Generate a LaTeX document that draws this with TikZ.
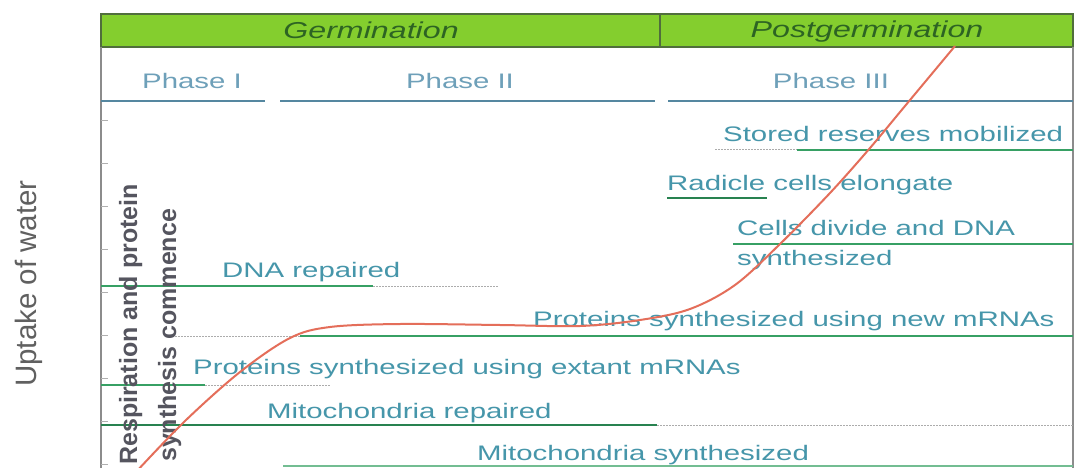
\documentclass[tikz,border=0pt]{standalone}
\usepackage{fontspec}
\setmainfont{Liberation Sans}
\definecolor{band}{RGB}{132,206,46}
\definecolor{bandtxt}{RGB}{45,100,35}
\definecolor{bandedge}{RGB}{80,110,60}
\definecolor{phasetxt}{RGB}{110,160,185}
\definecolor{phaseline}{RGB}{85,135,160}
\definecolor{anntxt}{RGB}{70,150,170}
\definecolor{gline}{RGB}{55,160,100}
\definecolor{dgline}{RGB}{40,130,80}
\definecolor{curvecol}{RGB}{228,110,90}
\definecolor{axiscol}{RGB}{140,140,140}
\definecolor{vtxt}{RGB}{85,85,95}
\newcommand\hstretch[1]{\scalebox{1.4}[1]{#1}}
\begin{document}
\begin{tikzpicture}[x=1pt,y=-1pt,
  ann/.style={anchor=base west, inner sep=0pt, text=anntxt, font=\fontsize{21}{25}\selectfont},
  phase/.style={anchor=base, inner sep=0pt, text=phasetxt, font=\fontsize{21}{25}\selectfont},
  bandlbl/.style={anchor=base, inner sep=0pt, text=bandtxt, font=\fontsize{23}{27}\selectfont\itshape},
  vlbl/.style={rotate=90, anchor=base west, inner sep=0pt, text=vtxt},
  gl/.style={draw=gline, line width=2pt},
  dgl/.style={draw=dgline, line width=2.5pt},
  dl/.style={draw=gray!65, line width=1pt, dash pattern=on 1.5pt off 1.5pt},
  pl/.style={draw=phaseline, line width=2pt},
  frame/.style={draw=axiscol, line width=1.5pt},
  tick/.style={draw=axiscol!70, line width=0.8pt}]
\useasboundingbox (0,0) rectangle (1076,468);
\fill[white] (0,0) rectangle (1076,468);
% header band
\fill[band] (101,14) rectangle (1073,47);
\draw[bandedge, line width=1.5pt] (101,14) rectangle (1073,47);
\draw[bandedge, line width=1.5pt] (660,14) -- (660,47);
\node[bandlbl] (germ) at (371,39) {\hstretch{Germination}};
\node[bandlbl] (postg) at (867,38) {\hstretch{Postgermination}};
% frame
\draw[frame] (101,47) -- (101,468);
\draw[frame] (1073,47) -- (1073,468);
\foreach \t in {120,163,206,249,292,335,378,421,464}
  \draw[tick] (101,\t) -- (108,\t);
% phases
\node[phase] (ph1) at (192,89) {\hstretch{Phase I}};
\node[phase] (ph2) at (460,89) {\hstretch{Phase II}};
\node[phase] (ph3) at (831,89) {\hstretch{Phase III}};
\draw[pl] (101,101) -- (265,101);
\draw[pl] (280,101) -- (655,101);
\draw[pl] (668,101) -- (1073,101);
% event lines
\draw[dl] (715,150) -- (797,150);
\draw[gl] (797,150) -- (1073,150);
\draw[dgl] (667,198) -- (767,198);
\draw[gl] (733,244) -- (1073,244);
\draw[gl] (101,286) -- (373,286);
\draw[dl] (373,286) -- (498,286);
\draw[dl] (172,336) -- (300,336);
\draw[gl] (300,336) -- (1073,336);
\draw[gl] (101,385) -- (205,385);
\draw[dl] (205,385) -- (330,385);
\draw[dgl] (101,425) -- (657,425);
\draw[dl] (657,425) -- (1073,425);
\draw[draw=gline!70, line width=1.5pt] (283,466) -- (1073,466);
% annotations
\node[ann] (stored) at (723,142) {\hstretch{Stored reserves mobilized}};
\node[ann] (radicle) at (667,190) {\hstretch{Radicle cells elongate}};
\node[ann] (cells) at (737,235) {\hstretch{Cells divide and DNA}};
\node[ann] (synth) at (737,265) {\hstretch{synthesized}};
\node[ann] (dnarep) at (222,277) {\hstretch{DNA repaired}};
\node[ann] (newm) at (533,326) {\hstretch{Proteins synthesized using new mRNAs}};
\node[ann] (extant) at (193,374) {\hstretch{Proteins synthesized using extant mRNAs}};
\node[ann] (mitorep) at (267,418) {\hstretch{Mitochondria repaired}};
\node[ann] (mitosyn) at (477,460) {\hstretch{Mitochondria synthesized}};
% vertical labels
\node[vlbl, font=\fontsize{25}{29}\selectfont\bfseries] (resp) at (137,465) {Respiration and protein};
\node[vlbl, font=\fontsize{25}{29}\selectfont\bfseries] (comm) at (176,462) {synthesis commence};
\node[vlbl, font=\fontsize{29.5}{33}\selectfont, text=gray!75!black] (uptake) at (36,387) {Uptake of water};
% water uptake curve
\draw[curvecol, line width=2pt] plot[smooth, tension=0.55] coordinates {
  (136,472) (185,421) (240,372) (290,338) (330,327) (400,324) (500,325)
  (580,326) (640,320) (690,309) (735,285) (780,244) (830,193) (870,148)
  (905,106) (955,46)};
\end{tikzpicture}
\end{document}
